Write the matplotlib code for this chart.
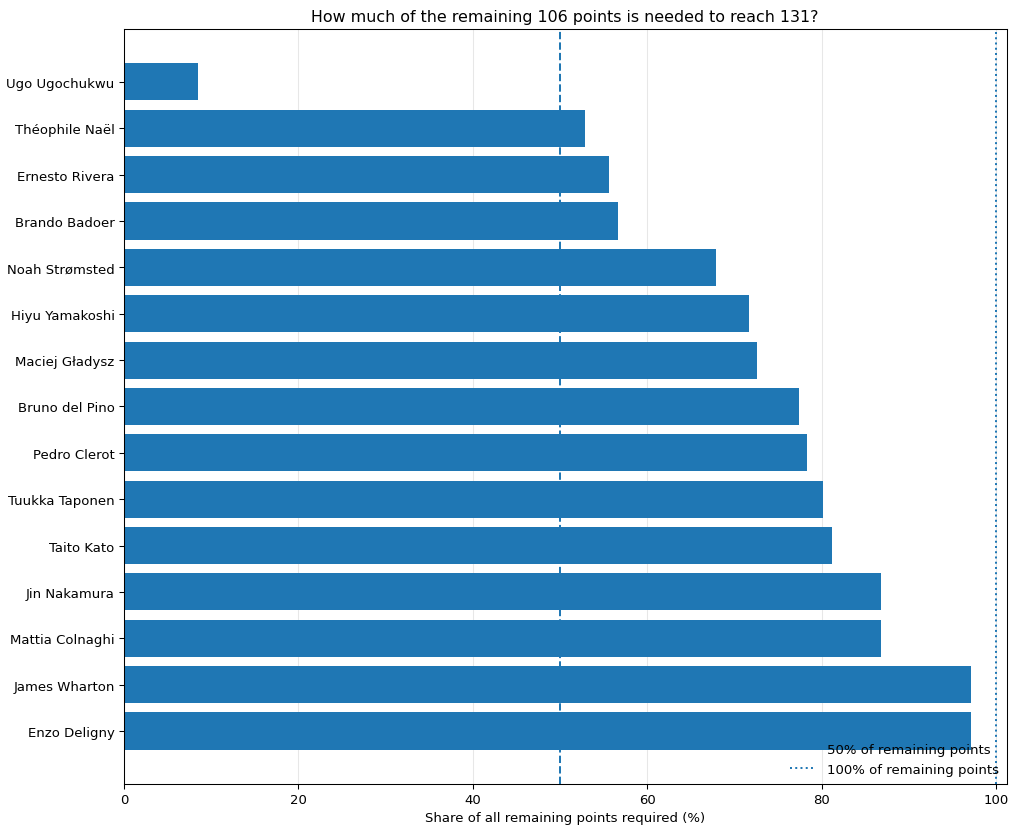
import numpy as np
import matplotlib.pyplot as plt

remaining = 106
target = 131
# drivers from bottom to top
drivers = ["Enzo Deligny", "James Wharton", "Mattia Colnaghi", "Jin Nakamura",
           "Taito Kato", "Tuukka Taponen", "Pedro Clerot", "Bruno del Pino",
           "Maciej Gładysz", "Hiyu Yamakoshi", "Noah Strømsted", "Brando Badoer",
           "Ernesto Rivera", "Théophile Naël", "Ugo Ugochukwu"]
points_needed = [103, 103, 92, 92, 86, 85, 83, 82, 77, 76, 72, 60, 59, 56, 9]

share = np.array(points_needed) / remaining * 100

dpi = 95
fig, ax = plt.subplots(figsize=(1024 / dpi, 835 / dpi), dpi=dpi)
ax.barh(drivers, share, color="#1f77b4")
ax.axvline(50, linestyle="--", color="#1f77b4", label="50% of remaining points")
ax.axvline(100, linestyle=":", color="#1f77b4", label="100% of remaining points")
ax.set_xlim(0, 101.2)
ax.grid(axis="x", alpha=0.3)
ax.set_axisbelow(True)
ax.set_xlabel("Share of all remaining points required (%)")
ax.set_title(f"How much of the remaining {remaining} points is needed to reach {target}?")
ax.legend(loc="lower right", frameon=False, borderaxespad=0.2)
plt.subplots_adjust(left=0.121, right=0.983, top=0.964, bottom=0.06)
fig.savefig("out.png", dpi=dpi)
